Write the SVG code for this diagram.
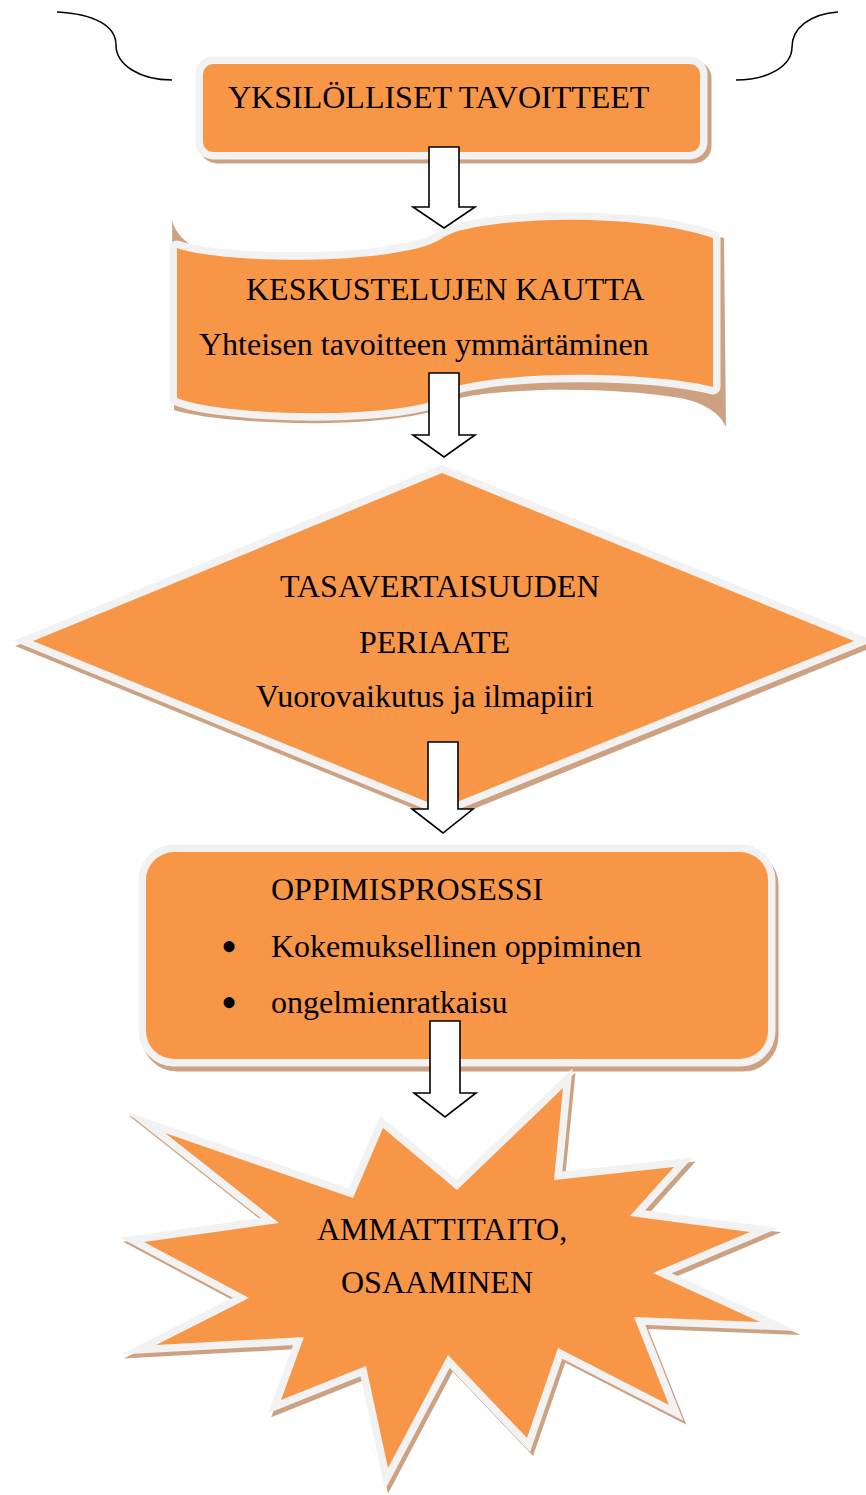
<svg xmlns="http://www.w3.org/2000/svg" width="866" height="1495" viewBox="0 0 866 1495">
<defs>
<style>
.shape{fill:#f79646;stroke:#f2f2f2;stroke-width:15;paint-order:stroke;stroke-miterlimit:10}
.shadow{fill:#cda283;stroke:#cda283;stroke-width:15;stroke-miterlimit:10}
.t{font-family:"Liberation Serif","Times New Roman",serif;font-size:32px;fill:#000}
.b{font-family:"Liberation Serif","Times New Roman",serif;font-size:46px;fill:#000}
.arrow{fill:#fff;stroke:#000;stroke-width:1.6;stroke-linejoin:miter}
.brace{fill:none;stroke:#000;stroke-width:1.5}
</style>
</defs>
<rect width="866" height="1495" fill="#fff"/>

<g id="brace">
<path class="brace" d="M57,12 C95,14 116,26 116,45 C116,65 140,80 172,80"/>
<path class="brace" d="M838,12 C810,14 792,28 792,47 C792,66 768,80 736,80"/>
</g>

<g id="node-yksilolliset">
<rect class="shadow" x="207" y="68" width="497" height="88" rx="10"/>
<rect class="shape" x="203" y="64" width="497" height="88" rx="10"/>
<text class="t" x="228" y="108">YKSILÖLLISET TAVOITTEET</text>
</g>

<g id="node-keskustelujen">
<path fill="#cda283" d="M172,220 C176,236 190,248 215,256 C300,275 380,272 430,254 L458,241 C530,222 650,224 724,238 L726,427 C718,410 700,402 680,398 C620,388 520,386 460,398 L430,412 C360,430 220,424 174,410 Z"/>
<path class="shape" style="stroke-linejoin:round" d="M177,248 C215,262 360,266 425,246 C440,241 444,236 455,232 C520,214 650,216 713,238 L713,387 C650,372 520,370 457,386 C446,390 440,398 427,403 C360,420 215,414 177,398 Z"/>
<text class="t" x="246" y="300">KESKUSTELUJEN KAUTTA</text>
<text class="t" x="199" y="355">Yhteisen tavoitteen ymmärtäminen</text>
</g>

<g id="node-tasavertaisuus">
<polygon class="shadow" transform="translate(2,5)" points="442,473 854,641 442,808 33,641"/>
<polygon class="shape" points="442,473 854,641 442,808 33,641"/>
<text class="t" x="280" y="597">TASAVERTAISUUDEN</text>
<text class="t" x="359" y="653">PERIAATE</text>
<text class="t" x="256" y="707">Vuorovaikutus ja ilmapiiri</text>
</g>

<g id="node-oppimisprosessi">
<rect class="shadow" x="149" y="857" width="622" height="207" rx="28"/>
<rect class="shape" x="146" y="852" width="622" height="207" rx="28"/>
<text class="t" x="271" y="900">OPPIMISPROSESSI</text>
<text class="b" x="221" y="962">•</text>
<text class="t" x="271" y="957">Kokemuksellinen oppiminen</text>
<text class="b" x="221" y="1018">•</text>
<text class="t" x="271" y="1013">ongelmienratkaisu</text>
</g>

<g id="node-ammattitaito">
<polygon class="shadow" transform="translate(3,4)" points="165,1133 353,1198 383,1128 457,1190 563,1088 554,1180 674,1167 630,1216 750,1232 653,1273 760,1322 634,1317 669,1405 558,1348 527,1438 448,1355 388,1468 366,1366 281,1400 304,1337 156,1345 249,1298 144,1242 279,1223"/>
<polygon class="shape" points="165,1133 353,1198 383,1128 457,1190 563,1088 554,1180 674,1167 630,1216 750,1232 653,1273 760,1322 634,1317 669,1405 558,1348 527,1438 448,1355 388,1468 366,1366 281,1400 304,1337 156,1345 249,1298 144,1242 279,1223"/>
<text class="t" x="317" y="1240">AMMATTITAITO,</text>
<text class="t" x="341" y="1293">OSAAMINEN</text>
</g>

<g id="connectors">
<path class="arrow" d="M429,147 H459 V207 H475 L444,228 L413,207 H429 Z"/>
<path class="arrow" d="M429,373 H459 V435 H475 L444,457 L413,435 H429 Z"/>
<path class="arrow" d="M428,742 H458 V809 H473 L443,833 L412,809 H428 Z"/>
<path class="arrow" d="M430,1021 H460 V1093 H476 L445,1117 L414,1093 H430 Z"/>
</g>
</svg>
